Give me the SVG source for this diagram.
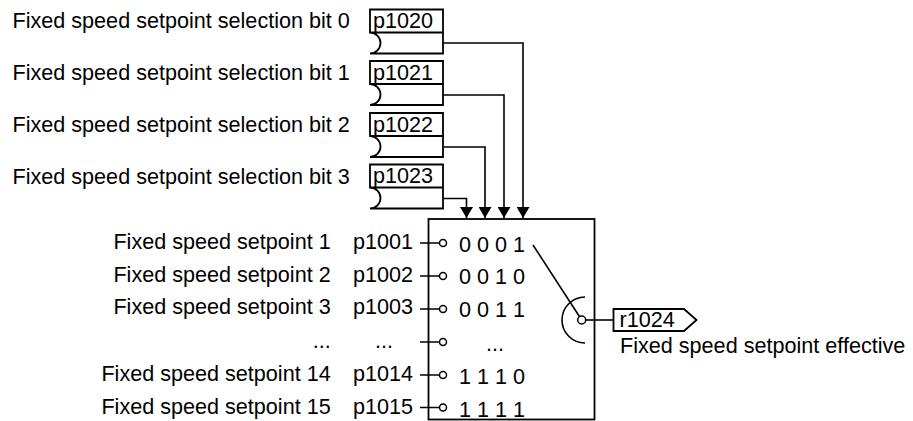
<svg xmlns="http://www.w3.org/2000/svg" width="913" height="421" viewBox="0 0 913 421">
<defs>
<style>
text{font-family:"Liberation Sans",Arial,sans-serif;font-size:21.6px;fill:#000}
.ln{fill:none;stroke:#000;stroke-width:1.6}
.bx{fill:#fff;stroke:#000;stroke-width:1.8}
.end{text-anchor:end}
.mid{text-anchor:middle}
.pin{fill:#fff;stroke:#000;stroke-width:1.5}
</style>
<marker id="arr" markerWidth="11" markerHeight="13" refX="11" refY="6.5" orient="auto" markerUnits="userSpaceOnUse" viewBox="0 0 11 13">
<path d="M0,0 L11,6.5 L0,13 Z" fill="#000"/>
</marker>
</defs>
<rect width="913" height="421" fill="#fff"/>

<g id="connectors">
<path class="ln" d="M443,43 H523 V218" marker-end="url(#arr)"/>
<path class="ln" d="M443,95 H504 V218" marker-end="url(#arr)"/>
<path class="ln" d="M443,147 H485 V218" marker-end="url(#arr)"/>
<path class="ln" d="M443,198.5 H466.5 V218" marker-end="url(#arr)"/>
<path class="ln" d="M420,243 H440 M420,276 H440 M420,309 H440 M420,342 H440 M420,375 H440 M420,407.5 H440"/>
<path class="ln" d="M533,245 L581.7,320"/>
<path class="ln" d="M585,320 H613.5"/>
</g>

<g id="sel0">
<text x="12.5" y="28">Fixed speed setpoint selection bit 0</text>
<path class="bx" d="M370,9.5 H443 V53.5 H370 A10.5,10.5 0 0,0 370,32.5 Z M370,32.5 H443"/>
<text x="373" y="28">p1020</text>
</g>
<g id="sel1">
<text x="12.5" y="80">Fixed speed setpoint selection bit 1</text>
<path class="bx" d="M370,61 H443 V105 H370 A10.5,10.5 0 0,0 370,84 Z M370,84 H443"/>
<text x="373" y="79.5">p1021</text>
</g>
<g id="sel2">
<text x="12.5" y="132">Fixed speed setpoint selection bit 2</text>
<path class="bx" d="M370,113 H443 V157 H370 A10.5,10.5 0 0,0 370,136 Z M370,136 H443"/>
<text x="373" y="131.5">p1022</text>
</g>
<g id="sel3">
<text x="12.5" y="183.5">Fixed speed setpoint selection bit 3</text>
<path class="bx" d="M370,164.5 H443 V208.5 H370 A10.5,10.5 0 0,0 370,187.5 Z M370,187.5 H443"/>
<text x="373" y="183">p1023</text>
</g>

<g id="inputs">
<text class="end" x="330.7" y="248.5">Fixed speed setpoint 1</text>
<text class="end" x="330.7" y="281.5">Fixed speed setpoint 2</text>
<text class="end" x="330.7" y="314">Fixed speed setpoint 3</text>
<text class="end" x="330.7" y="347.5">...</text>
<text class="end" x="330.7" y="381">Fixed speed setpoint 14</text>
<text class="end" x="330.7" y="413.5">Fixed speed setpoint 15</text>
<text class="end" x="413" y="248.5">p1001</text>
<text class="end" x="413" y="281.5">p1002</text>
<text class="end" x="413" y="314">p1003</text>
<text class="mid" x="384" y="347.5">...</text>
<text class="end" x="413" y="381">p1014</text>
<text class="end" x="413" y="413.5">p1015</text>
</g>

<g id="selector">
<rect x="428.5" y="219" width="166" height="200.5" style="fill:none;stroke:#000;stroke-width:1.8"/>
<circle class="pin" cx="443" cy="243" r="3.5"/>
<circle class="pin" cx="443" cy="276" r="3.5"/>
<circle class="pin" cx="443" cy="309" r="3.5"/>
<circle class="pin" cx="443" cy="342" r="3.5"/>
<circle class="pin" cx="443" cy="375" r="3.5"/>
<circle class="pin" cx="443" cy="407.5" r="3.5"/>
<text x="459" y="252">0 0 0 1</text>
<text x="459" y="284">0 0 1 0</text>
<text x="459" y="317">0 0 1 1</text>
<text x="486" y="351">...</text>
<text x="459" y="383.5">1 1 1 0</text>
<text x="459" y="416.5">1 1 1 1</text>
<path class="ln" d="M585,297 A23,23 0 0,0 585,343"/>
<circle class="pin" cx="581.7" cy="320" r="4"/>
</g>

<g id="output">
<path class="bx" d="M613.5,309 H684 L696.5,320 L684,331 H613.5 Z"/>
<text x="619.5" y="326.5">r1024</text>
<text x="620" y="352.5">Fixed speed setpoint effective</text>
</g>
</svg>
